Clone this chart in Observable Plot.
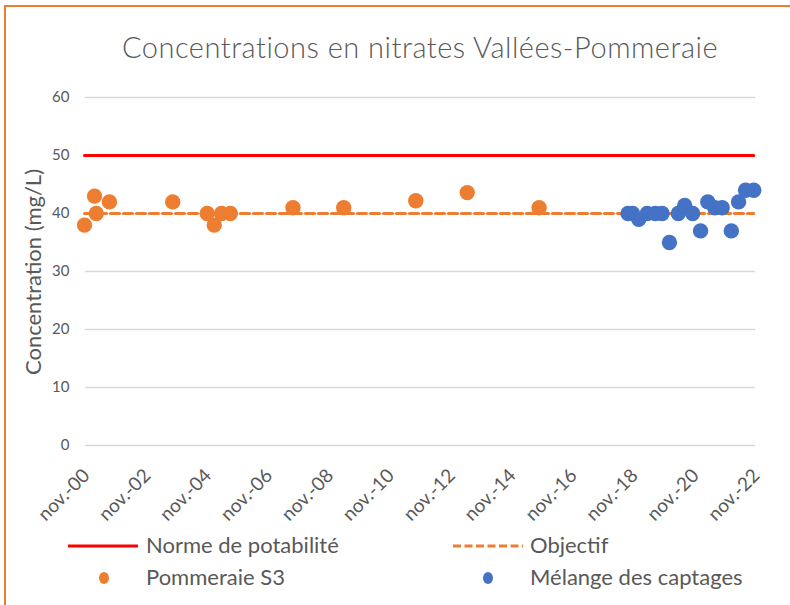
<!DOCTYPE html>
<html>
<head>
<meta charset="utf-8">
<script src="https://cdn.jsdelivr.net/npm/d3@7"></script>
<script src="https://cdn.jsdelivr.net/npm/@observablehq/plot@0.6"></script>
<style>
  html, body { margin: 0; padding: 0; background: #fff; }
  #wrap { position: relative; width: 790px; height: 605px; overflow: hidden; font-family: Lato, "Open Sans", sans-serif; color: #595959; }
  #frame { position: absolute; left: 4px; top: 5px; width: 800px; height: 700px; border-left: 2px solid #ED7D31; border-top: 2px solid #ED7D31; box-sizing: border-box; }
  #title { position: absolute; left: 0; width: 840px; top: 29px; text-align: center; font-size: 29px; letter-spacing: 0.5px; font-weight: 300; white-space: nowrap; }
  #ylab { position: absolute; left: 32px; top: 272px; transform: translate(-50%, -50%) rotate(-90deg); font-size: 22px; white-space: nowrap; }
  #chart { position: absolute; left: 0; top: 0; }
  .leg { position: absolute; font-size: 22px; white-space: nowrap; line-height: 1; }
  .legsym { position: absolute; }
</style>
</head>
<body>
<div id="wrap">
  <div id="frame"></div>
  <div id="chart"></div>
  <div id="title"></div>
  <div id="ylab"></div>
  <div id="legend"></div>
</div>
<script>
const titleText = "Concentrations en nitrates Vallées-Pommeraie";
const yLabel = "Concentration (mg/L)";

const pommeraieDates = ["2000-10-20","2001-02-17","2001-03-10","2001-08-15","2003-09-13","2004-10-30","2005-01-23","2005-04-20","2005-08-04","2007-08-25","2009-04-25","2011-09-06","2013-05-15","2015-09-24"];
const pommeraieValues = [38, 43, 40, 42, 42, 40, 38, 40, 40, 41, 41, 42.2, 43.6, 41];

const melangeDates = ["2018-08-25","2018-10-19","2019-01-01","2019-04-12","2019-07-19","2019-10-08","2020-01-04","2020-04-19","2020-07-05","2020-10-08","2021-01-11","2021-04-08","2021-07-01","2021-09-27","2022-01-15","2022-04-12","2022-07-05","2022-10-11"];
const melangeValues = [40, 40, 39, 40, 40, 40, 35, 40, 41.4, 40, 37, 42, 41, 41, 37, 42, 44, 44];

const lineDates = ["2000-10-20", "2022-10-11"];
const normeValues = [50, 50];
const objectifValues = [40, 40];

const xTickDates = ["2000-11-01","2002-11-01","2004-11-01","2006-11-01","2008-11-01","2010-11-01","2012-11-01","2014-11-01","2016-11-01","2018-11-01","2020-11-01","2022-11-01"];
const xTickLabels = ["nov.-00","nov.-02","nov.-04","nov.-06","nov.-08","nov.-10","nov.-12","nov.-14","nov.-16","nov.-18","nov.-20","nov.-22"];
const yTicks = [0, 10, 20, 30, 40, 50, 60];

const legendLabels = ["Norme de potabilité", "Objectif", "Pommeraie S3", "Mélange des captages"];
const colors = { norme: "#FF0000", objectif: "#ED7D31", pommeraie: "#ED7D31", melange: "#4472C4" };

const parse = s => new Date(s + "T00:00:00Z");
const pomm = pommeraieDates.map((d, i) => ({date: parse(d), value: pommeraieValues[i]}));
const mel = melangeDates.map((d, i) => ({date: parse(d), value: melangeValues[i]}));
const norme = lineDates.map((d, i) => ({date: parse(d), value: normeValues[i]}));
const obj = lineDates.map((d, i) => ({date: parse(d), value: objectifValues[i]}));
const tickD = xTickDates.map(parse);
const xTicksData = tickD.map((d, i) => ({date: d, label: xTickLabels[i]}));

const plot = Plot.plot({
  width: 790,
  height: 530,
  marginLeft: 85,
  marginRight: 35,
  marginTop: 97,
  marginBottom: 85,
  style: { fontFamily: "Lato, 'Open Sans', sans-serif", fontSize: "15px", color: "#595959", background: "transparent", overflow: "visible" },
  x: { type: "utc", domain: [tickD[0], tickD[tickD.length - 1]], axis: null },
  y: { domain: [0, 60] },
  marks: [
    Plot.gridY(yTicks, { stroke: "#D9D9D9", strokeOpacity: 1, strokeWidth: 1.3 }),
    Plot.axisY({ ticks: yTicks, tickSize: 0, tickPadding: 16, label: null, fontSize: 15 }),
    Plot.text(xTicksData, { x: "date", y: () => 0, text: "label", rotate: -45, textAnchor: "end", dy: 27, dx: 1, fontSize: 19, fill: "#595959", clip: false }),
    Plot.line(norme, { x: "date", y: "value", stroke: colors.norme, strokeWidth: 3 }),
    Plot.line(obj, { x: "date", y: "value", stroke: colors.objectif, strokeWidth: 3, strokeDasharray: "9,4" }),
    Plot.dot(pomm, { x: "date", y: "value", r: 7.7, fill: colors.pommeraie, stroke: "none" }),
    Plot.dot(mel, { x: "date", y: "value", r: 7.7, fill: colors.melange, stroke: "none" })
  ]
});
document.getElementById("chart").appendChild(plot);
document.getElementById("title").textContent = titleText;
document.getElementById("ylab").textContent = yLabel;

// Legend (HTML)
const leg = document.getElementById("legend");
function addText(txt, x, y) {
  const d = document.createElement("div");
  d.className = "leg"; d.textContent = txt;
  d.style.left = x + "px"; d.style.top = (y - 12) + "px";
  leg.appendChild(d);
}
function addSym(svgInner, x, y, w, h) {
  const s = document.createElementNS("http://www.w3.org/2000/svg", "svg");
  s.setAttribute("class", "legsym");
  s.setAttribute("width", w); s.setAttribute("height", h);
  s.style.left = x + "px"; s.style.top = y + "px";
  s.innerHTML = svgInner;
  leg.appendChild(s);
}
addSym(`<line x1="0" y1="5" x2="70" y2="5" stroke="${colors.norme}" stroke-width="3"/>`, 68, 541, 70, 10);
addText(legendLabels[0], 146, 546);
addSym(`<line x1="0" y1="5" x2="70" y2="5" stroke="${colors.objectif}" stroke-width="3" stroke-dasharray="8,3.5"/>`, 453, 541, 70, 10);
addText(legendLabels[1], 530, 546);
addSym(`<ellipse cx="6" cy="7" rx="5" ry="6" fill="${colors.pommeraie}"/>`, 98, 571, 12, 14);
addText(legendLabels[2], 146, 578);
addSym(`<ellipse cx="6" cy="7" rx="5" ry="6" fill="${colors.melange}"/>`, 482, 571, 12, 14);
addText(legendLabels[3], 530, 578);
</script>
</body>
</html>
